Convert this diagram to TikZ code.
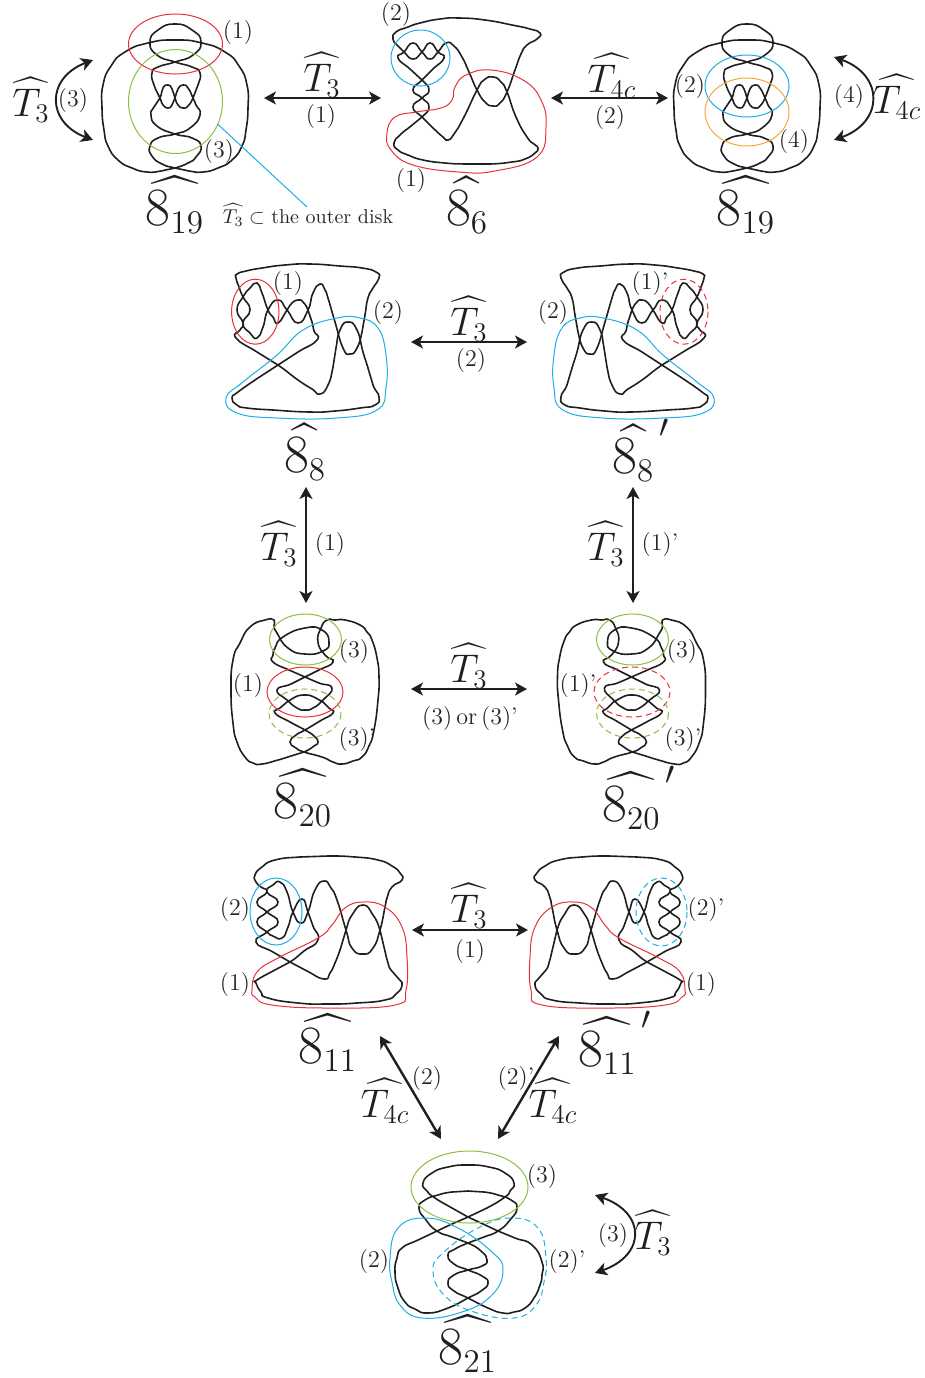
\RequirePackage{fix-cm}
\documentclass[tikz,border=0pt]{standalone}
\usepackage{tikz}
\usetikzlibrary{arrows,arrows.meta}
\DeclareFontFamily{OMX}{cmex}{}
\DeclareFontShape{OMX}{cmex}{m}{n}{<-> s*[0.87] cmex10}{}
\DeclareMathSizes{27}{27}{16.5}{12}
\DeclareMathSizes{20}{20}{13.5}{10}
\definecolor{loopred}{HTML}{E8303A}
\definecolor{loopgreen}{HTML}{8CBF3F}
\definecolor{loopblue}{HTML}{1CAEE4}
\definecolor{looporange}{HTML}{F5A83C}
\tikzset{
  knotline/.style={line width=0.8pt,draw=black!88},
  eightnineteen/.pic={
    \draw [knotline] plot[smooth cycle,tension=0.95] coordinates {(175,168) (161,171) (147,172) (132,168) (118,160) (108,146) (104,130) (102,108) (103,85) (111,66) (125,52) (148,43) (175,40) (202,43) (225,52) (239,66) (247,85) (248,108) (246,130) (242,146) (232,160) (218,168) (203,172) (189,171) (175,168) (162,164) (152,156) (150,146) (158,138) (175,134) (190,128) (200,115) (196,105) (193,98) (188,88) (183,85) (178,89) (175,98) (172,105) (168,108) (163,105) (160,98) (154,85) (152,73) (158,67) (175,62) (193,55) (201,42) (192,30) (175,24) (158,30) (150,42) (157,55) (175,62) (192,67) (200,73) (198,85) (193,98) (188,106) (183,108) (178,105) (175,98) (172,89) (168,85) (163,88) (160,98) (154,107) (151,115) (157,126) (175,134) (192,138) (201,146) (196,157) (188,163)};
  },
  eighteight/.pic={
    \draw [knotline] plot[smooth cycle,tension=0.95] coordinates {(320,394) (328,385) (333,367) (336,348) (340,330) (348,322) (357,330) (363,352) (368,368) (373,385) (379,397) (375,405) (360,408) (335,411) (310,412) (273,410) (247,408) (237,405) (232,398) (238,392) (258,378) (278,365) (298,352) (317,340) (314,331) (312,322) (308,310) (303,302) (298,300) (292,303) (287,310) (278,323) (273,317) (268,310) (262,293) (257,283) (250,288) (243,297) (237,310) (243,323) (240,330) (236,338) (257,352) (278,365) (298,380) (312,389)};
    \draw [knotline] plot[smooth cycle,tension=0.95] coordinates {(236,278) (239,287) (243,297) (250,310) (243,323) (250,333) (257,338) (263,327) (268,310) (278,300) (287,310) (298,323) (308,310) (313,293) (320,284) (325,290) (328,298) (335,322) (343,348) (350,354) (357,348) (362,332) (365,315) (368,298) (373,288) (379,278) (376,272) (362,268) (340,266) (310,264) (285,265) (262,268) (246,271) (237,274)};
    \draw [loopblue,line width=0.5pt] plot[smooth cycle,tension=0.75] coordinates {(226,398) (243,382) (277,355) (303,330) (337,318) (360,318) (378,328) (386,355) (386,388) (377,410) (337,418) (277,418) (237,413)};
  },
  eighttwenty/.pic={
    \draw [knotline] plot[smooth cycle,tension=0.95] coordinates {(274,620) (265,620) (250,627) (240,643) (233,660) (231,690) (233,723) (237,742) (245,757) (253,763) (262,764) (278,760) (291,756) (304,752) (314,746) (318,742) (314,736) (305,730) (290,722) (275,713) (280,708) (287,702) (295,697) (305,695) (314,697) (323,702) (329,708) (333,713) (320,721) (305,730) (296,735) (290,742) (296,748) (304,752) (322,757) (333,762) (342,764) (353,761) (362,757) (369,746) (374,730) (378,700) (379,677) (377,658) (372,640) (367,632) (360,625) (345,620) (335,620) (327,620) (321,628) (318,642) (325,655) (333,662) (319,670) (305,677) (291,684) (277,690) (287,700) (297,708) (305,710) (313,708) (323,700) (332,688) (319,683) (305,677) (289,670) (273,662) (273,655) (275,648) (283,637) (305,628) (322,630) (329,642) (323,651) (305,654) (288,648) (277,633) (274,626)};
  },
  eighteleven/.pic={
    \draw [knotline] plot[smooth cycle,tension=0.95] coordinates {(256,882) (255,875) (262,867) (275,860) (300,857) (328,856) (355,857) (378,860) (392,866) (400,873) (402,880) (392,887) (387,898) (385,907) (380,930) (373,948) (363,954) (352,948) (346,930) (337,900) (331,888) (324,881) (315,890) (308,912) (301,923) (293,912) (287,892) (280,882) (273,885) (267,892) (278,902) (267,912) (257,922) (267,932) (273,936) (282,938) (288,927) (293,912) (302,899) (308,912) (313,926) (318,940) (304,951) (290,962) (273,971) (257,980) (256,983) (261,992) (268,998) (298,1003) (328,1004) (357,1003) (385,1000) (396,994) (402,985) (398,978) (391,970) (388,963) (384,947) (380,930) (373,915) (363,905) (352,915) (346,930) (341,947) (335,963) (330,973) (324,979) (307,971) (290,962) (273,952) (256,942) (267,932) (278,922) (267,912) (257,902) (267,892) (261,887)};
    \draw [loopred,line width=0.5pt] plot[smooth cycle,tension=0.75] coordinates {(252,990) (257,972) (278,958) (318,938) (332,925) (345,908) (363,902) (385,907) (402,927) (407,957) (406,990) (395,1005) (328,1008) (272,1005) (255,997)};
  }
}
\begin{document}
\begin{tikzpicture}[x=0.5pt,y=-0.5pt]
\tikzstyle{dblarrow} = [line width=1.2pt,black!88,{Stealth[length=6pt,width=6.5pt,inset=1.6pt]}-{Stealth[length=6pt,width=6.5pt,inset=1.6pt]}]
\tikzstyle{curvearrow} = [line width=0.95pt,black!88,{Stealth[length=6pt,width=6.5pt,inset=1.6pt]}-{Stealth[length=6pt,width=6.5pt,inset=1.6pt]}]
\tikzstyle{lbl} = [font=\large,text=black!85,inner sep=0pt]
\tikzstyle{hatlbl} = [font=\fontsize{20}{24}\selectfont,text=black!88,inner sep=0pt]
\tikzstyle{namelbl} = [font=\fontsize{27}{32}\selectfont,text=black!88,inner sep=0pt]
\tikzstyle{redloop} = [loopred,line width=0.5pt]
\tikzstyle{greenloop} = [loopgreen,line width=0.5pt]
\tikzstyle{blueloop} = [loopblue,line width=0.5pt]
\tikzstyle{orangeloop} = [looporange,line width=0.5pt]
\tikzstyle{dashloop} = [dash pattern=on 3pt off 2pt]
\useasboundingbox (0,0) rectangle (925,1378);

\pic at (0,0) {eightnineteen};
\draw [redloop] (175.5,44) ellipse [x radius=47,y radius=30];
\draw [greenloop] (175.5,101.5) ellipse [x radius=47,y radius=52];
\pic at (572,0) {eightnineteen};
\draw [blueloop] (747,86) ellipse [x radius=42,y radius=31];
\draw [orangeloop] (747,112) ellipse [x radius=42,y radius=34];

\draw [knotline] plot[smooth cycle,tension=0.95] coordinates {(443,137) (448,140) (454,134) (464,117) (477,90) (484,80) (493,77) (501,82) (507,92) (516,117) (527,137) (534,144) (538,148) (535,153) (525,159) (512,162) (490,164) (466,164) (445,163) (423,160) (408,155) (398,150) (394,143) (400,135) (411,126) (422,117) (429,107) (422,98) (413,90) (422,80) (433,69) (444,58) (438,52) (430,43) (422,52) (413,59) (404,52) (397,45) (393,39) (396,32) (408,27) (420,23) (440,19) (459,18) (485,20) (512,25) (530,29) (540,33) (537,39) (527,45) (521,54) (515,70) (507,92) (500,103) (493,106) (485,102) (477,90) (469,72) (462,57) (454,46) (446,43) (438,52) (430,59) (422,52) (413,43) (404,52) (398,58) (410,69) (422,80) (429,90) (422,98) (413,107) (422,117) (432,127)};
\draw [redloop] plot[smooth cycle,tension=0.75] coordinates {(387,133) (395,117) (416,112) (441,108) (452,100) (455,87) (466,75) (491,70) (523,80) (541,100) (546,127) (537,157) (495,171) (459,172) (413,165) (391,150)};
\draw [blueloop] (420.5,58) ellipse [x radius=29.5,y radius=28];

\pic at (0,0) {eighteight};
\draw [redloop] (255.3,311.7) ellipse [x radius=23.7,y radius=32.5];
\pic[xscale=-1] at (940,0) {eighteight};
\draw [redloop,dashloop] (684,311.7) ellipse [x radius=24,y radius=32.5];

\pic at (0,0) {eighttwenty};
\draw [greenloop] (305.5,639.5) ellipse [x radius=36,y radius=25.5];
\draw [redloop] (305,692) ellipse [x radius=38,y radius=25];
\draw [greenloop,dashloop] (305,713.5) ellipse [x radius=36,y radius=24.5];
\pic[xscale=-1] at (936.5,0) {eighttwenty};
\draw [greenloop] (632.5,639.5) ellipse [x radius=36,y radius=25.5];
\draw [redloop,dashloop] (632,692) ellipse [x radius=38,y radius=25];
\draw [greenloop,dashloop] (632.5,713.5) ellipse [x radius=36,y radius=24.5];

\pic at (0,0) {eighteleven};
\draw [blueloop] (276,911.5) ellipse [x radius=26,y radius=33.5];
\pic[xscale=-1] at (937,0) {eighteleven};
\draw [blueloop,dashloop] (661.5,912) ellipse [x radius=25.5,y radius=34];

\draw [knotline] plot[smooth cycle,tension=0.95] coordinates {(468,1165) (448,1167) (432,1173) (423,1183) (427,1191) (435,1198) (452,1208) (468,1217) (483,1224) (498,1231) (515,1238) (532,1245) (542,1262) (542,1275) (540,1285) (534,1298) (525,1308) (514,1312) (503,1313) (488,1308) (468,1298) (454,1291) (448,1283) (454,1275) (468,1270) (482,1266) (487,1260) (481,1251) (468,1243) (452,1237) (437,1231) (426,1220) (419,1208) (425,1200) (438,1195) (452,1192) (468,1191) (484,1192) (498,1195) (511,1200) (517,1208) (510,1220) (498,1231) (484,1237) (468,1243) (455,1249) (448,1255) (454,1264) (468,1270) (482,1276) (488,1283) (481,1291) (468,1298) (448,1308) (428,1313) (415,1309) (405,1302) (398,1288) (395,1272) (397,1258) (402,1248) (418,1240) (437,1231) (452,1224) (468,1217) (487,1208) (505,1197) (510,1191) (514,1183) (505,1173) (489,1167)};
\draw [greenloop] (469.5,1187) ellipse [x radius=58.5,y radius=36];
\draw [blueloop] plot[smooth cycle,tension=0.75] coordinates {(390,1258) (398,1228) (425,1218) (458,1228) (492,1252) (503,1270) (492,1295) (462,1312) (422,1318) (400,1305) (392,1282)};
\draw [blueloop,dashloop] plot[smooth cycle,tension=0.75] coordinates {(546,1258) (538,1228) (511,1218) (478,1228) (444,1252) (433,1270) (444,1295) (474,1312) (514,1318) (536,1305) (544,1282)};

\node (nameA) [namelbl] at (175,205) {$\widehat{8_{19}}$};
\node (nameB) [namelbl] at (467,205) {$\widehat{8_{6}}$};
\node (nameC) [namelbl] at (746,205) {$\widehat{8_{19}}$};
\node (nameD) [namelbl] at (305,452) {$\widehat{8_{8}}$};
\node (nameDp) [namelbl,anchor=west] at (612,450) {$\widehat{8_{8}}^{\mkern3mu\prime}$};
\node (nameE) [namelbl] at (303,798) {$\widehat{8_{20}}$};
\node (nameEp) [namelbl,anchor=west] at (602,798) {$\widehat{8_{20}}^{\mkern3mu\prime}$};
\node (nameF) [namelbl] at (328,1043) {$\widehat{8_{11}}$};
\node (nameFp) [namelbl,anchor=west] at (578,1043) {$\widehat{8_{11}}^{\mkern3mu\prime}$};
\node (nameG) [namelbl] at (468,1344) {$\widehat{8_{21}}$};

\node (hatA) [hatlbl] at (31,100) {$\widehat{T_3}$};
\node (hatB) [hatlbl] at (322,75) {$\widehat{T_3}$};
\node (hatC) [hatlbl] at (612,76) {$\widehat{T_{4c}}$};
\node (hatD) [hatlbl] at (897,97) {$\widehat{T_{4c}}$};
\node (hatE) [hatlbl] at (469,319) {$\widehat{T_3}$};
\node (hatF) [hatlbl] at (279,544) {$\widehat{T_3}$};
\node (hatG) [hatlbl] at (606,544) {$\widehat{T_3}$};
\node (hatH) [hatlbl] at (469,666) {$\widehat{T_3}$};
\node (hatI) [hatlbl] at (469,906) {$\widehat{T_3}$};
\node (hatJ) [hatlbl] at (385,1101) {$\widehat{T_{4c}}$};
\node (hatK) [hatlbl] at (553,1101) {$\widehat{T_{4c}}$};
\node (hatL) [hatlbl] at (653,1233) {$\widehat{T_3}$};

\node (l1) [lbl] at (73,101) {(3)};
\node (l2) [lbl] at (238,33) {(1)};
\node (l3) [lbl] at (219,152) {(3)};
\node (l4) [lbl] at (321,117) {(1)};
\node (l5) [lbl] at (396,15) {(2)};
\node (l6) [lbl] at (411,181) {(1)};
\node (l7) [lbl] at (610,118) {(2)};
\node (l8) [lbl] at (690,87) {(2)};
\node (l9) [lbl] at (794,142) {(4)};
\node (l10) [lbl] at (849,97) {(4)};
\node (l11) [lbl] at (288,284) {(1)};
\node (l12) [lbl] at (388,313) {(2)};
\node (l13) [lbl] at (471,361) {(2)};
\node (l14) [lbl] at (650,284) {(1)'};
\node (l15) [lbl] at (553,313) {(2)};
\node (l16) [lbl] at (330,545) {(1)};
\node (l17) [lbl] at (660,545) {(1)'};
\node (l18) [lbl] at (354,651) {(3)};
\node (l19) [lbl] at (248,685) {(1)};
\node (l20) [lbl] at (357,739) {(3)'};
\node (l21) [lbl] at (470,718) {(3)\,or\,(3)'};
\node (l22) [lbl] at (682,651) {(3)};
\node (l23) [lbl] at (578,685) {(1)'};
\node (l24) [lbl] at (683,739) {(3)'};
\node (l25) [lbl] at (235,909) {(2)};
\node (l26) [lbl] at (235,984) {(1)};
\node (l27) [lbl] at (470,951) {(1)};
\node (l28) [lbl] at (706,909) {(2)'};
\node (l29) [lbl] at (701,984) {(1)};
\node (l30) [lbl] at (427,1078) {(2)};
\node (l31) [lbl] at (516,1078) {(2)'};
\node (l32) [lbl] at (542,1176) {(3)};
\node (l33) [lbl] at (374,1261) {(2)};
\node (l34) [lbl] at (567,1261) {(2)'};
\node (l35) [lbl] at (613,1235) {(3)};
\node (outerdisk) [font=\normalsize,text=black!85,inner sep=0pt] at (308,215) {$\widehat{T_3}\subset$ the outer disk};

\coordinate (greenedge) at (217.5,124);
\coordinate (diskend) at (307,207);
\draw [loopblue,line width=0.5pt] (greenedge) -- (diskend);

\coordinate (a1) at (264,98);
\coordinate (a2) at (381,98);
\coordinate (a3) at (551,98);
\coordinate (a4) at (668,98);
\coordinate (a5) at (411,342);
\coordinate (a6) at (527,342);
\coordinate (a7) at (306,487);
\coordinate (a8) at (306,603);
\coordinate (a9) at (633,487);
\coordinate (a10) at (633,603);
\coordinate (a11) at (411,689);
\coordinate (a12) at (527,689);
\coordinate (a13) at (412,930);
\coordinate (a14) at (528,930);
\coordinate (a15) at (380,1036);
\coordinate (a16) at (441,1139);
\coordinate (a17) at (559,1036);
\coordinate (a18) at (498,1139);
\draw [dblarrow] (a1) -- (a2);
\draw [dblarrow] (a3) -- (a4);
\draw [dblarrow] (a5) -- (a6);
\draw [dblarrow] (a7) -- (a8);
\draw [dblarrow] (a9) -- (a10);
\draw [dblarrow] (a11) -- (a12);
\draw [dblarrow] (a13) -- (a14);
\draw [dblarrow] (a15) -- (a16);
\draw [dblarrow] (a17) -- (a18);

\coordinate (c1) at (93,60);
\coordinate (c2) at (93,140);
\coordinate (c3) at (834,57);
\coordinate (c4) at (834,140);
\coordinate (c5) at (595,1195);
\coordinate (c6) at (595,1273);
\draw [curvearrow] (c1) .. controls (46,78) and (46,122) .. (c2);
\draw [curvearrow] (c3) .. controls (884,75) and (884,122) .. (c4);
\draw [curvearrow] (c5) .. controls (646,1213) and (646,1255) .. (c6);
\end{tikzpicture}
\end{document}
